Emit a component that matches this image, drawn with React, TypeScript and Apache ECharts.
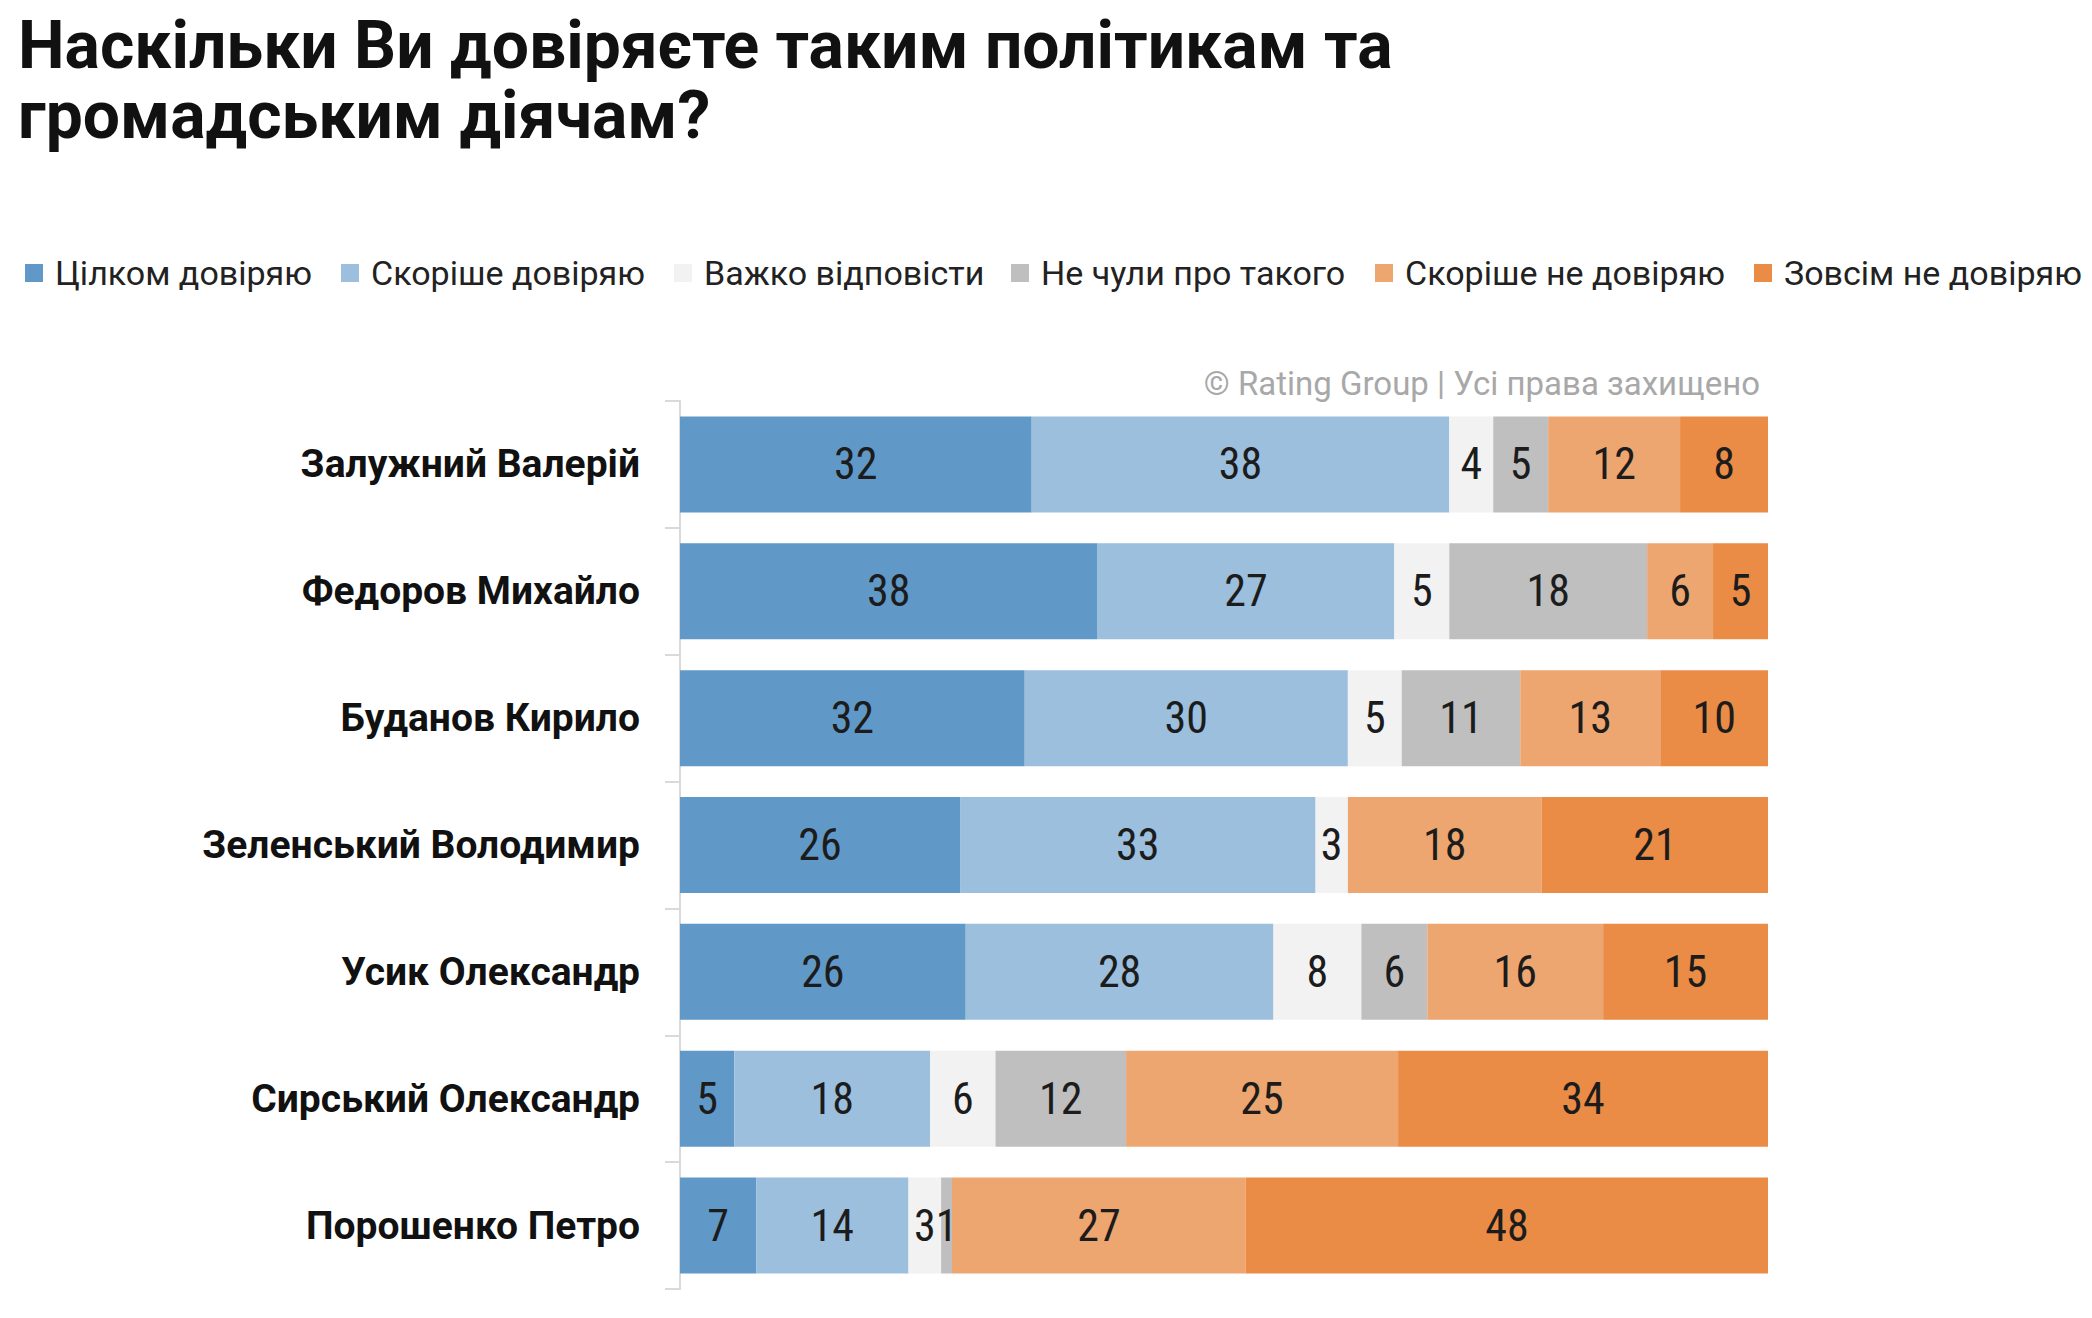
import { useEffect, useRef } from "react";
import * as echarts from "echarts";

const TITLE = "Наскільки Ви довіряєте таким політикам та\nгромадським діячам?";
const COPYRIGHT = "© Rating Group | Усі права захищено";

const people = [
  "Залужний Валерій",
  "Федоров Михайло",
  "Буданов Кирило",
  "Зеленський Володимир",
  "Усик Олександр",
  "Сирський Олександр",
  "Порошенко Петро",
];

const seriesNames = [
  "Цілком довіряю",
  "Скоріше довіряю",
  "Важко відповісти",
  "Не чули про такого",
  "Скоріше не довіряю",
  "Зовсім не довіряю",
];

const fullyTrust = [32, 38, 32, 26, 26, 5, 7];
const ratherTrust = [38, 27, 30, 33, 28, 18, 14];
const hardToSay = [4, 5, 5, 3, 8, 6, 3];
const notHeard = [5, 18, 11, 0, 6, 12, 1];
const ratherDistrust = [12, 6, 13, 18, 16, 25, 27];
const fullyDistrust = [8, 5, 10, 21, 15, 34, 48];

const seriesValues = [fullyTrust, ratherTrust, hardToSay, notHeard, ratherDistrust, fullyDistrust];

const colors = ["#6099c7", "#9bbfdc", "#f2f2f2", "#bfbfbf", "#eea670", "#ea8b46"];
const legendLefts = [25, 341, 674, 1011, 1375, 1754];

// bars are drawn as 100% stacked, labels show the raw values
const rowTotals = people.map((_, i) => seriesValues.reduce((s, arr) => s + arr[i], 0));

function buildOption(): echarts.EChartsOption {
  return {
    animation: false,
    backgroundColor: "#ffffff",
    title: {
      text: TITLE,
      left: 18,
      top: 10,
      padding: 0,
      textStyle: {
        fontFamily: "Roboto",
        fontWeight: "bold",
        fontSize: 66,
        lineHeight: 70,
        color: "#111111",
      },
    },
    legend: seriesNames.map((name, i) => ({
      data: [name],
      left: legendLefts[i],
      top: 256,
      padding: 0,
      icon: "rect",
      itemWidth: 18,
      itemHeight: 18,
      selectedMode: false,
      textStyle: {
        fontFamily: "Roboto",
        fontSize: 34,
        color: "#222222",
        padding: [0, 0, 0, 7],
      },
    })),
    graphic: [
      {
        type: "text",
        right: 2092 - 1760,
        top: 367,
        style: {
          text: COPYRIGHT,
          font: "33px Roboto",
          fill: "#a8a8a8",
        },
      },
    ],
    grid: { left: 680, top: 401, width: 1088, height: 888 },
    xAxis: { type: "value", min: 0, max: 100, show: false },
    yAxis: {
      type: "category",
      data: people,
      inverse: true,
      axisLine: { show: true, lineStyle: { color: "#d9d9d9", width: 2 } },
      axisTick: { show: true, length: 15, lineStyle: { color: "#d9d9d9", width: 2 } },
      axisLabel: {
        margin: 40,
        fontFamily: "Roboto",
        fontWeight: "bold",
        fontSize: 39,
        color: "#111111",
      },
    },
    series: seriesNames.map((name, si) => ({
      name,
      type: "bar",
      stack: "total",
      barWidth: 96,
      itemStyle: { color: colors[si] },
      label: {
        show: true,
        position: "inside",
        fontFamily: "'Roboto Condensed', 'Liberation Sans Narrow', 'Arial Narrow', Roboto",
        fontSize: 44,
        color: "#1c1c1c",
        formatter: (p: any) => (p.data.raw > 0 ? String(p.data.raw) : ""),
      },
      data: seriesValues[si].map((v, i) => ({ value: (v / rowTotals[i]) * 100, raw: v })),
    })),
  };
}

export default function App() {
  const el = useRef<HTMLDivElement>(null);

  useEffect(() => {
    if (!el.current) return;
    const chart = echarts.init(el.current, undefined, { renderer: "svg" });
    chart.setOption(buildOption());
    return () => chart.dispose();
  }, []);

  return (
    <div
      ref={el}
      style={{ position: "fixed", left: 0, top: 0, width: 2092, height: 1318, background: "#fff" }}
    />
  );
}
